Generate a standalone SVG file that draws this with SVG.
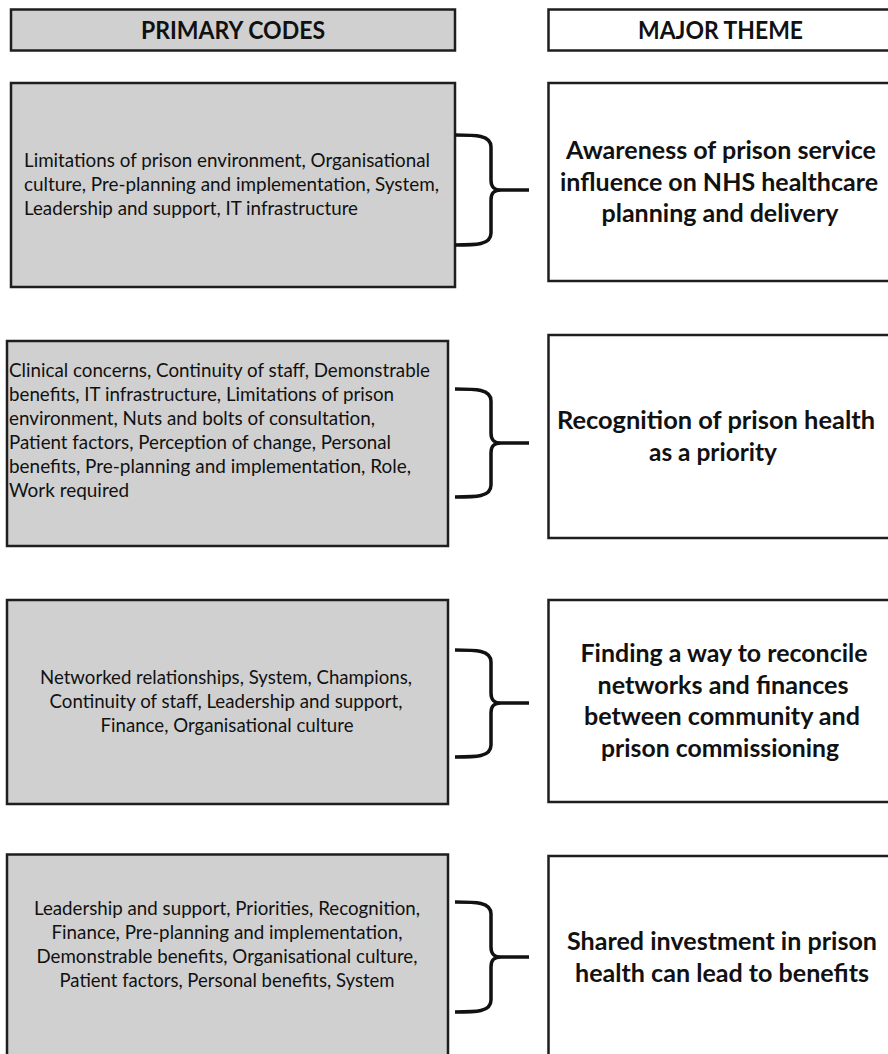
<svg xmlns="http://www.w3.org/2000/svg" width="888" height="1054" viewBox="0 0 888 1054">
<style>
.code{fill:#d0d0d0;stroke:#1e1e1e;stroke-width:2.5}
.theme{fill:#fff;stroke:#1e1e1e;stroke-width:2.5}
.t{font-family:Lato,"Liberation Sans",sans-serif;font-size:19px;fill:#111}
.b{font-family:Lato,"Liberation Sans",sans-serif;font-size:25px;font-weight:bold;fill:#111}
.c{text-anchor:middle}
.brace{fill:none;stroke:#111;stroke-width:3.5;stroke-linejoin:round}
</style>
<rect width="888" height="1054" fill="#fff"/>
<g id="header-codes">
<rect class="code" x="11" y="9.5" width="444" height="41"/>
<text class="b c" x="233" y="38.5" textLength="184" lengthAdjust="spacingAndGlyphs">PRIMARY CODES</text>
</g>
<g id="header-theme">
<rect class="theme" x="548.5" y="9.5" width="360" height="41"/>
<text class="b c" x="720.5" y="38.5" textLength="165" lengthAdjust="spacingAndGlyphs">MAJOR THEME</text>
</g>
<g id="codes-1">
<rect class="code" x="11" y="83" width="444" height="204"/>
<text class="t" x="24" y="166.5" textLength="406" lengthAdjust="spacingAndGlyphs">Limitations of prison environment, Organisational</text>
<text class="t" x="24" y="190.5" textLength="415" lengthAdjust="spacingAndGlyphs">culture, Pre-planning and implementation, System,</text>
<text class="t" x="24" y="214.5" textLength="334" lengthAdjust="spacingAndGlyphs">Leadership and support, IT infrastructure</text>
</g>
<g id="theme-1">
<rect class="theme" x="548.5" y="83" width="360" height="198"/>
<text class="b c" x="721" y="159" textLength="310" lengthAdjust="spacingAndGlyphs">Awareness of prison service</text>
<text class="b c" x="719" y="190.5" textLength="318" lengthAdjust="spacingAndGlyphs">influence on NHS healthcare</text>
<text class="b c" x="720" y="222" textLength="237" lengthAdjust="spacingAndGlyphs">planning and delivery</text>
</g>
<g id="codes-2">
<rect class="code" x="7" y="341" width="441" height="205"/>
<text class="t" x="9" y="377" textLength="421" lengthAdjust="spacingAndGlyphs">Clinical concerns, Continuity of staff, Demonstrable</text>
<text class="t" x="9" y="401" textLength="385" lengthAdjust="spacingAndGlyphs">benefits, IT infrastructure, Limitations of prison</text>
<text class="t" x="9" y="425" textLength="366" lengthAdjust="spacingAndGlyphs">environment, Nuts and bolts of consultation,</text>
<text class="t" x="9" y="449" textLength="382" lengthAdjust="spacingAndGlyphs">Patient factors, Perception of change, Personal</text>
<text class="t" x="9" y="473" textLength="402" lengthAdjust="spacingAndGlyphs">benefits, Pre-planning and implementation, Role,</text>
<text class="t" x="9" y="497" textLength="120" lengthAdjust="spacingAndGlyphs">Work required</text>
</g>
<g id="theme-2">
<rect class="theme" x="548.5" y="335" width="360" height="203"/>
<text class="b c" x="716" y="429" textLength="318" lengthAdjust="spacingAndGlyphs">Recognition of prison health</text>
<text class="b c" x="713" y="460.5" textLength="128" lengthAdjust="spacingAndGlyphs">as a priority</text>
</g>
<g id="codes-3">
<rect class="code" x="7" y="600" width="441" height="204"/>
<text class="t c" x="226" y="684" textLength="372" lengthAdjust="spacingAndGlyphs">Networked relationships, System, Champions,</text>
<text class="t c" x="226" y="708" textLength="353" lengthAdjust="spacingAndGlyphs">Continuity of staff, Leadership and support,</text>
<text class="t c" x="227" y="732" textLength="253" lengthAdjust="spacingAndGlyphs">Finance, Organisational culture</text>
</g>
<g id="theme-3">
<rect class="theme" x="548.5" y="600" width="360" height="202"/>
<text class="b c" x="724" y="662" textLength="287" lengthAdjust="spacingAndGlyphs">Finding a way to reconcile</text>
<text class="b c" x="723" y="693.5" textLength="251" lengthAdjust="spacingAndGlyphs">networks and finances</text>
<text class="b c" x="722" y="725" textLength="276" lengthAdjust="spacingAndGlyphs">between community and</text>
<text class="b c" x="720" y="756.5" textLength="238" lengthAdjust="spacingAndGlyphs">prison commissioning</text>
</g>
<g id="codes-4">
<rect class="code" x="7" y="854.5" width="441" height="240"/>
<text class="t c" x="227" y="915" textLength="386" lengthAdjust="spacingAndGlyphs">Leadership and support, Priorities, Recognition,</text>
<text class="t c" x="227" y="939" textLength="351" lengthAdjust="spacingAndGlyphs">Finance, Pre-planning and implementation,</text>
<text class="t c" x="227" y="963" textLength="381" lengthAdjust="spacingAndGlyphs">Demonstrable benefits, Organisational culture,</text>
<text class="t c" x="227" y="987" textLength="335" lengthAdjust="spacingAndGlyphs">Patient factors, Personal benefits, System</text>
</g>
<g id="theme-4">
<rect class="theme" x="548.5" y="856" width="360" height="240"/>
<text class="b c" x="722" y="950" textLength="310" lengthAdjust="spacingAndGlyphs">Shared investment in prison</text>
<text class="b c" x="722" y="981.5" textLength="294" lengthAdjust="spacingAndGlyphs">health can lead to benefits</text>
</g>
<g id="connectors">
<path class="brace" d="M455,135 C476,135 491,135 491,147 L491,180 C491,187 494,190 501,190 L529,190 M501,190 C494,190 491,193 491,200 L491,233 C491,245 476,245 455,245"/>
<path class="brace" d="M455,389 C476,389 491,389 491,401 L491,433 C491,440 494,443 501,443 L529,443 M501,443 C494,443 491,446 491,453 L491,485 C491,497 476,497 455,497"/>
<path class="brace" d="M455,650 C476,650 491,650 491,662 L491,693 C491,700 494,703 501,703 L529,703 M501,703 C494,703 491,706 491,713 L491,745 C491,757 476,757 455,757"/>
<path class="brace" d="M455,902 C476,902 491,902 491,914 L491,947 C491,954 494,957 501,957 L529,957 M501,957 C494,957 491,960 491,967 L491,1000 C491,1012 476,1012 455,1012"/>
</g>
</svg>
